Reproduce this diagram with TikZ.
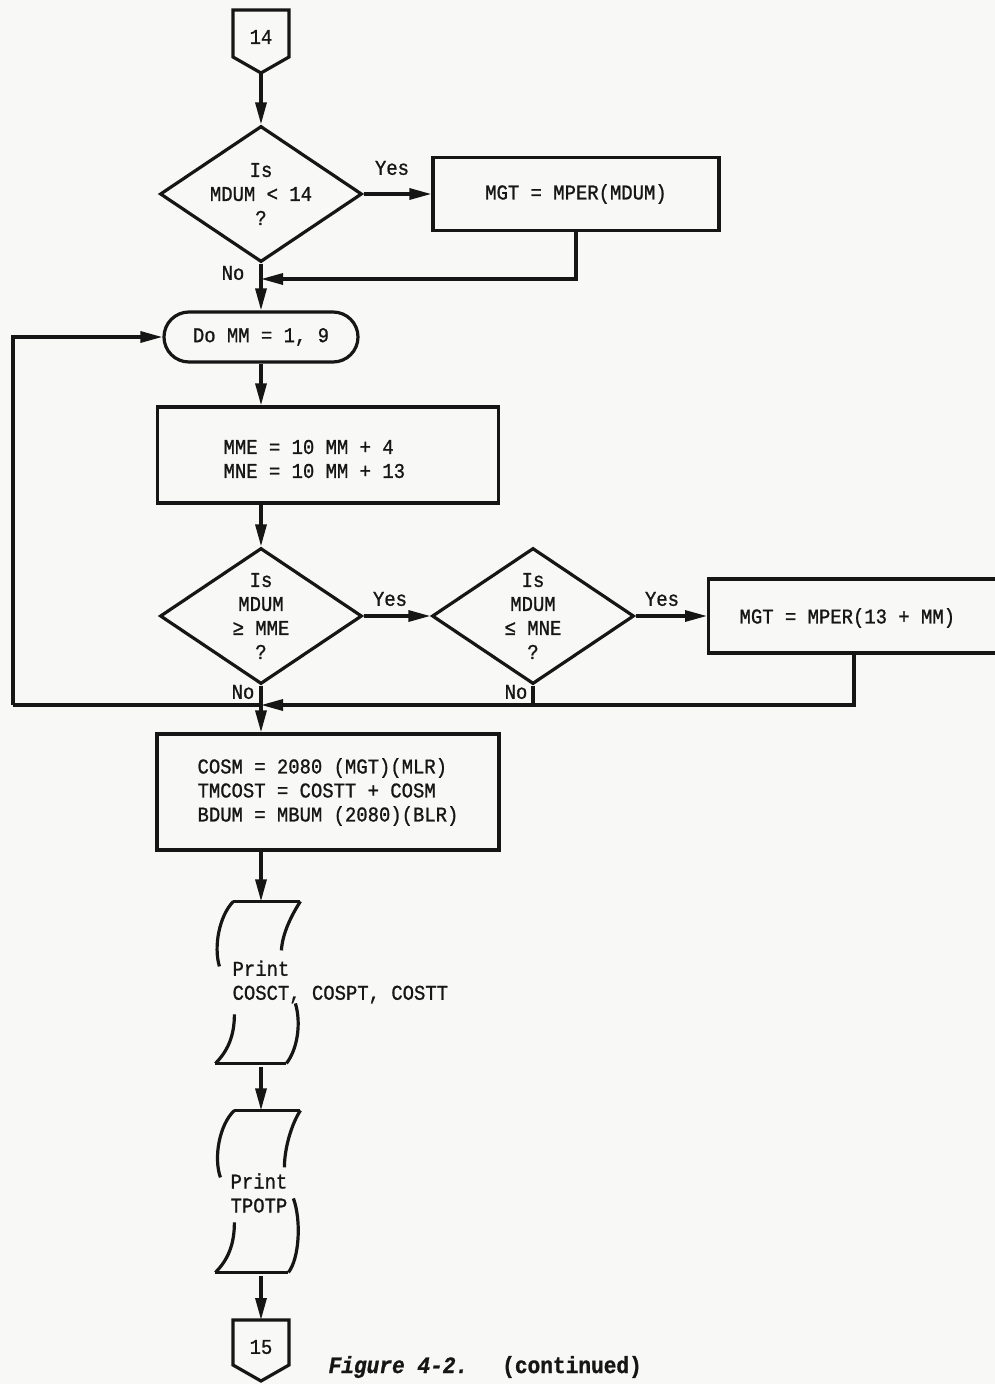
\documentclass[tikz,border=0pt]{standalone}
\usepackage{fontspec}
\setmonofont{Liberation Mono}[FakeStretch=0.9,FakeBold=1]
\usetikzlibrary{arrows.meta,positioning,shapes.geometric}
\definecolor{ink}{HTML}{161616}
\definecolor{paper}{HTML}{F8F8F6}

\begin{document}
\begin{tikzpicture}[x=1pt,y=-1pt,color=ink,line width=3.2pt,
  font=\ttfamily\fontsize{21}{24}\selectfont,
  box/.style={draw,rectangle,inner sep=0pt,align=left},
  dec/.style={draw,diamond,aspect=1.47,inner sep=0pt,minimum width=202pt,minimum height=136pt,align=center},
  loopbox/.style={draw,rounded corners=25pt,minimum width=194pt,minimum height=50pt,inner sep=0pt},
  prt/.style={minimum width=80pt,minimum height=162pt,inner sep=0pt},
  lbl/.style={inner sep=0pt},
  arr/.style={-{Triangle[length=22pt,width=11pt]}}]
\useasboundingbox (0,0) rectangle (995,1384);
\fill[paper] (0,0) rectangle (995,1384);

% entry connector
\draw (233,10) -- (289,10) -- (289,57) -- (261,73) -- (233,57) -- cycle;
\node[lbl] (c14) at (261,37) {14};
\coordinate (c14tip) at (261,73);

\node[dec] (d1) at (261,194) {Is\\MDUM < 14\\?};
\node[box,minimum width=286pt,minimum height=73pt] (b1) at (576,194) {MGT = MPER(MDUM)};
\node[lbl] (y1) at (392,168) {Yes};
\node[lbl] (n1) at (233,273) {No};
\coordinate (j1) at (261,279);

\node[loopbox] (do) at (261,337) {Do MM = 1, 9};
\node[box,minimum width=341pt,minimum height=96pt] (mm) at (328,455) {};
\node[lbl,anchor=west,align=left] (mmt) at (222,459) {MME = 10 MM + 4\\MNE = 10 MM + 13};

\node[dec] (d2) at (261,616) {Is\\MDUM\\≥ MME\\?};
\node[dec] (d3) at (533,616) {Is\\MDUM\\≤ MNE\\?};
\node[box,anchor=west,minimum height=74pt,minimum width=320pt] (b3) at (707,616) {};
\node[lbl,anchor=west] (b3t) at (738,618) {MGT = MPER(13 + MM)};
\node[lbl] (y2) at (390,599) {Yes};
\node[lbl] (y3) at (662,599) {Yes};
\node[lbl] (n2) at (243,692) {No};
\node[lbl] (n3) at (516,692) {No};
\coordinate (j2) at (261,705);
\coordinate (j3) at (854,705);
\coordinate (lp) at (13,705);

\node[box,minimum width=342pt,minimum height=116pt] (b4) at (328,792)
  {COSM = 2080 (MGT)(MLR)\\TMCOST = COSTT + COSM\\BDUM = MBUM (2080)(BLR)};

% print symbols
\node[prt] (pr1) at (261,984) {};
\begin{scope}[shift={(pr1.north west)}]
  \draw (14,0) -- (81,0);
  \draw (14,0) .. controls (0,14) and (-6,45) .. (0,65);
  \draw (81,0) .. controls (72,14) and (63,32) .. (62,49);
  \draw (15,113) .. controls (15,135) and (8,150) .. (-4,162);
  \draw (76,102) .. controls (82,122) and (78,148) .. (67,162);
  \draw (-4,162) -- (67,162);
\end{scope}
\node[lbl,anchor=west,align=left] (pr1t) at (231,982) {Print\\COSCT, COSPT, COSTT};

\node[prt] (pr2) at (261,1193) {};
\begin{scope}[shift={(pr2.north west)}]
  \draw (15,0) -- (81,0);
  \draw (15,0) .. controls (0,14) and (-6,47) .. (1,67);
  \draw (81,0) .. controls (72,14) and (65,38) .. (65,57);
  \draw (74,88) .. controls (82,110) and (80,148) .. (69,162);
  \draw (15,112) .. controls (15,135) and (8,150) .. (-4,162);
  \draw (-4,162) -- (69,162);
\end{scope}
\node[lbl,anchor=west,align=left] (pr2t) at (229,1193) {Print\\TPOTP};

% exit connector
\draw (233,1320) -- (289,1320) -- (289,1365) -- (261,1381) -- (233,1365) -- cycle;
\node[lbl] (c15) at (261,1347) {15};
\node[lbl,anchor=west,font=\ttfamily\bfseries\fontsize{23.5}{26}\selectfont] (cap) at (327,1367)
  {\textit{Figure 4-2.}\hspace{34pt}(continued)};

% connectors
\draw[arr] (c14tip) -- (d1.north);
\draw[arr] (d1.east) -- (b1.west);
\draw[arr] (b1.south) |- (j1);
\draw[arr] (d1.south) -- (do.north);
\draw[arr] (lp) |- (do.west);
\draw[arr] (do.south) -- (do.south |- mm.north);
\draw[arr] (d2 |- mm.south) -- (d2.north);
\draw[arr] (d2.east) -- (d3.west);
\draw[arr] (d3.east) -- (b3.west);
\draw[arr] (b3.south -| j3) -- (j3) -- (j2);
\draw (d3.south) -- (d3.south |- j2);
\draw (j2) -- (lp);
\draw[arr] (d2.south) -- (d2.south |- b4.north);
\draw[arr] (pr1 |- b4.south) -- (pr1.north);
\draw[arr] (pr1.south) -- (pr2.north);
\draw[arr] (pr2.south) -- (261,1320);
\end{tikzpicture}
\end{document}
